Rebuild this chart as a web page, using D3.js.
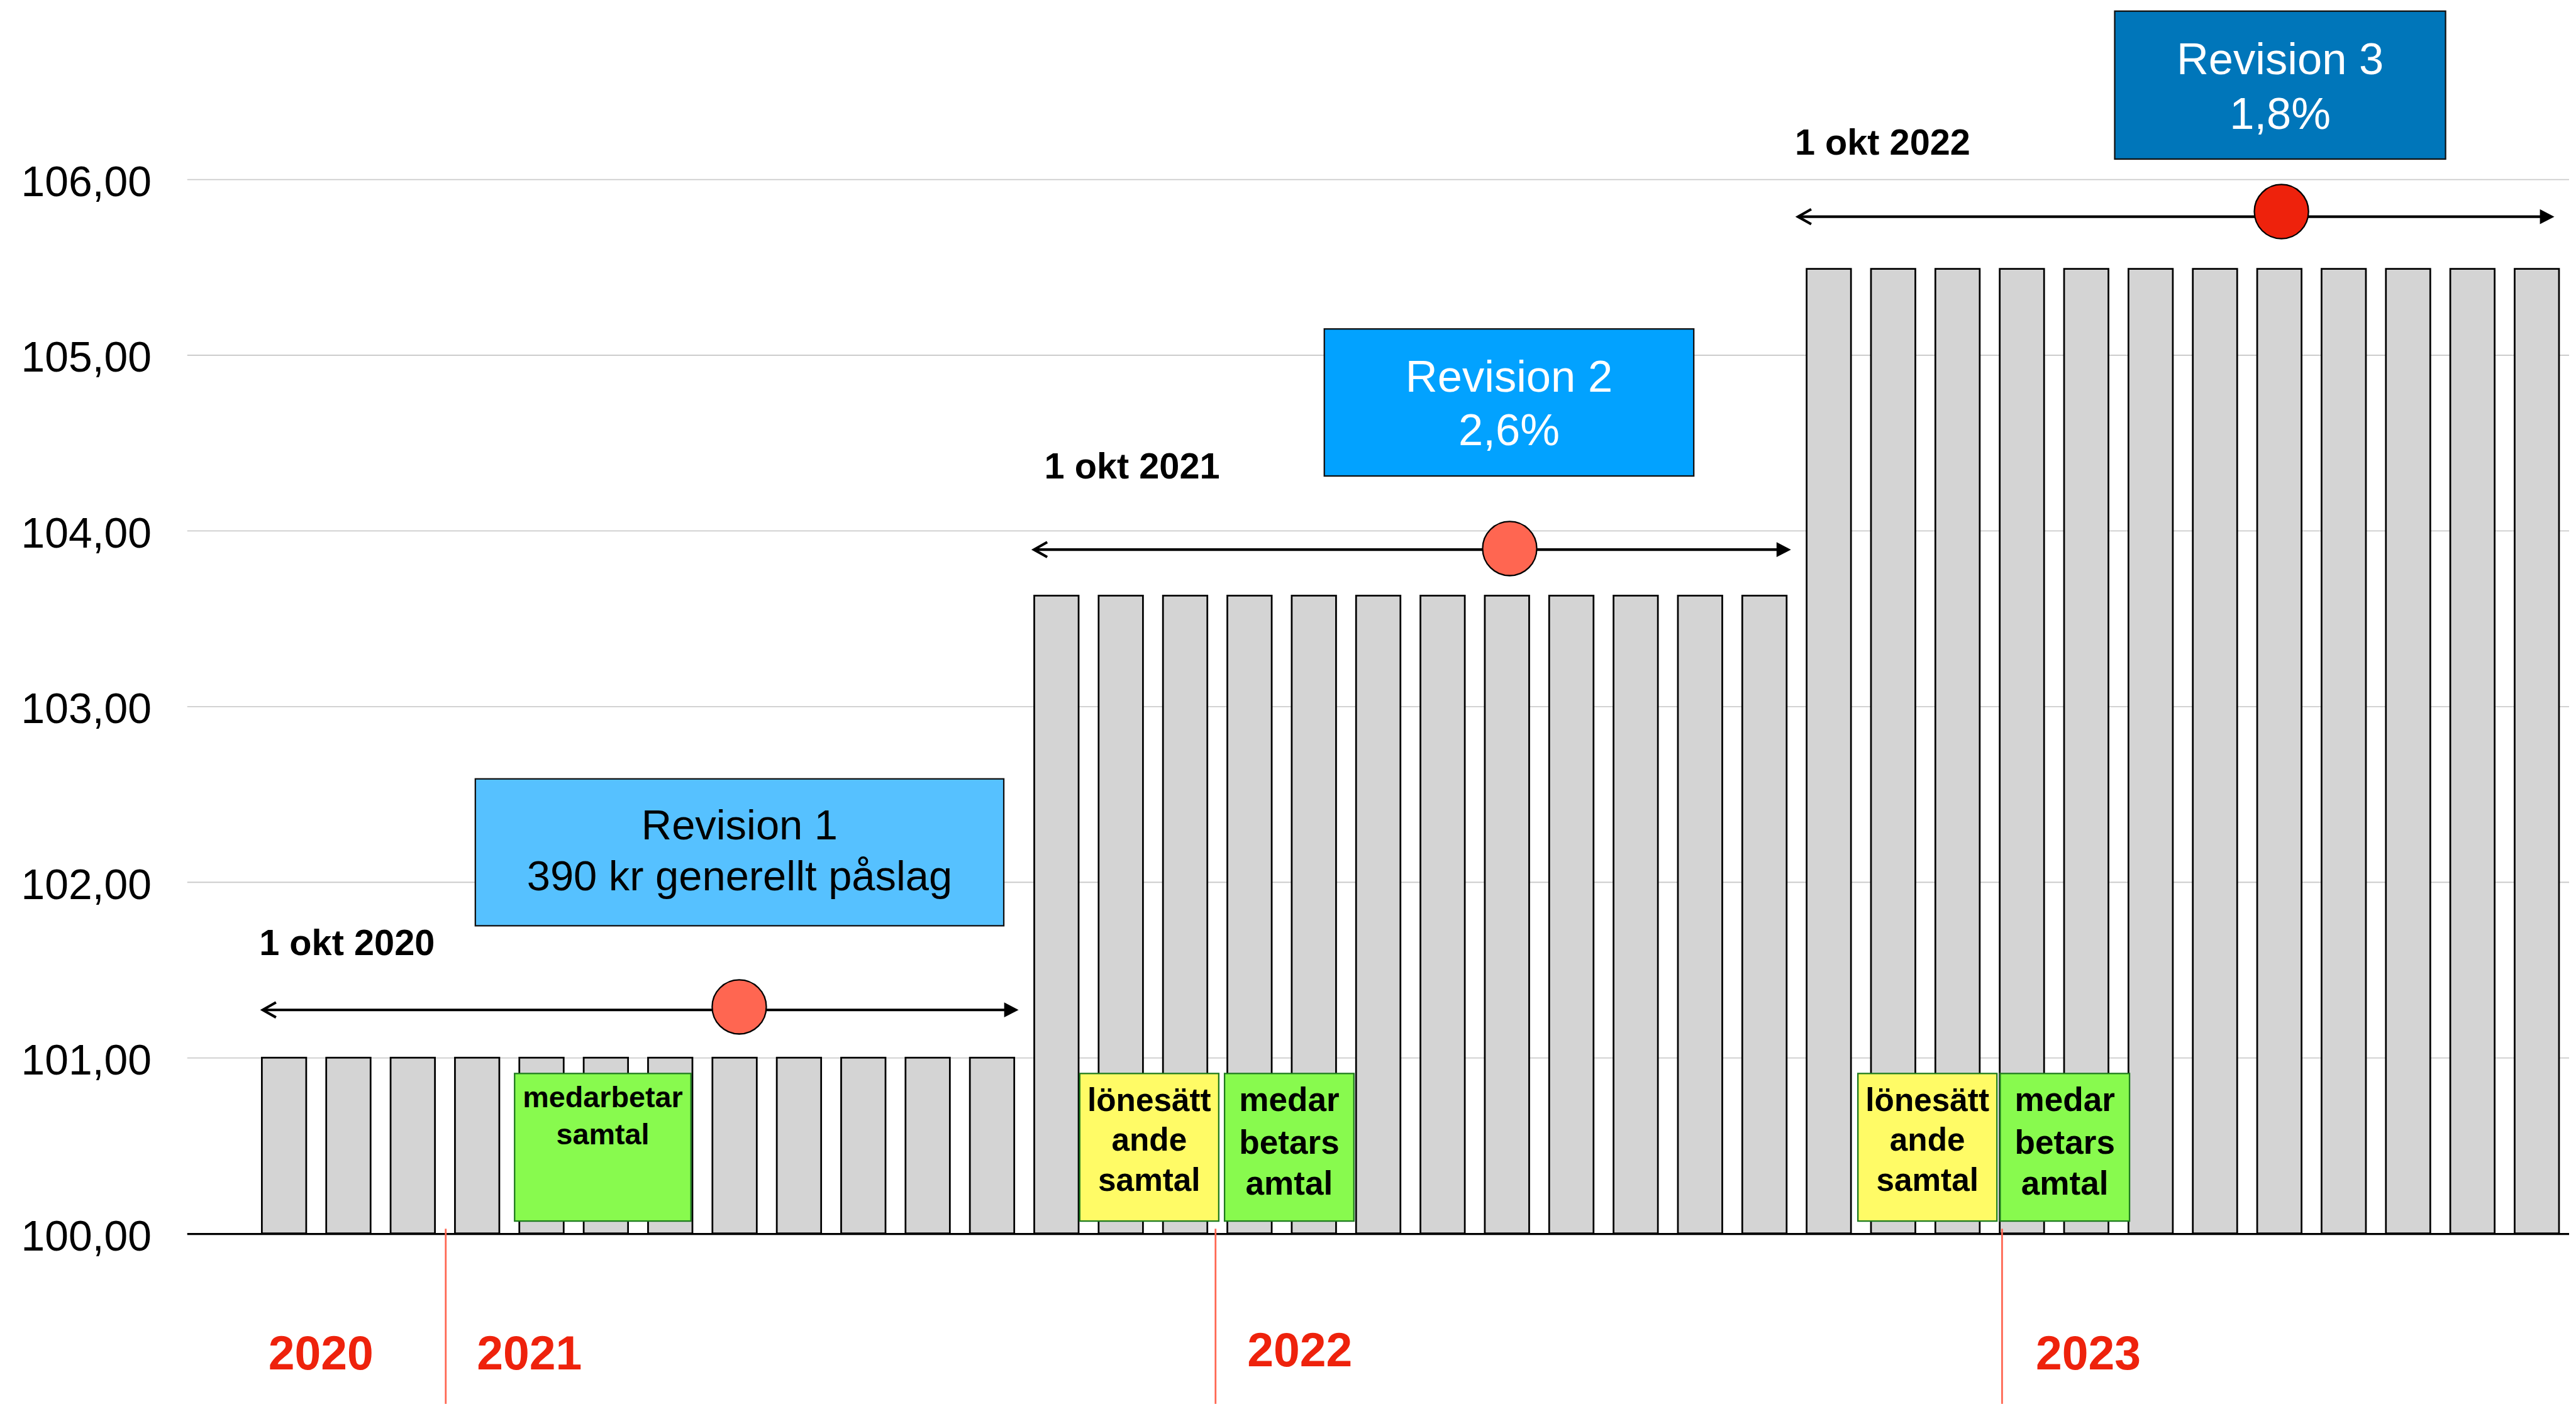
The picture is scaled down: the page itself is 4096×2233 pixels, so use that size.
<!DOCTYPE html>
<html>
<head>
<meta charset="utf-8">
<script src="https://cdn.jsdelivr.net/npm/d3@7"></script>
<style>
  html, body { margin: 0; padding: 0; background: #fff; overflow: hidden; }
  svg { display: block; }
  text { font-family: "Liberation Sans", Arial, Helvetica, sans-serif; }
</style>
</head>
<body>
<div id="chart"></div>
<script>
// ---- data ----
const months = [
  "okt 2020", "nov 2020", "dec 2020", "jan 2021", "feb 2021", "mar 2021",
  "apr 2021", "maj 2021", "jun 2021", "jul 2021", "aug 2021", "sep 2021",
  "okt 2021", "nov 2021", "dec 2021", "jan 2022", "feb 2022", "mar 2022",
  "apr 2022", "maj 2022", "jun 2022", "jul 2022", "aug 2022", "sep 2022",
  "okt 2022", "nov 2022", "dec 2022", "jan 2023", "feb 2023", "mar 2023",
  "apr 2023", "maj 2023", "jun 2023", "jul 2023", "aug 2023", "sep 2023"
];
const values = [
  101.00, 101.00, 101.00, 101.00, 101.00, 101.00,
  101.00, 101.00, 101.00, 101.00, 101.00, 101.00,
  103.63, 103.63, 103.63, 103.63, 103.63, 103.63,
  103.63, 103.63, 103.63, 103.63, 103.63, 103.63,
  105.49, 105.49, 105.49, 105.49, 105.49, 105.49,
  105.49, 105.49, 105.49, 105.49, 105.49, 105.49
];
const yTicks = [100, 101, 102, 103, 104, 105, 106];
const years = ["2020", "2021", "2022", "2023"];
const periodLabels = ["1 okt 2020", "1 okt 2021", "1 okt 2022"];
const revTitles = ["Revision 1", "Revision 2", "Revision 3"];
const revNotes = ["390 kr generellt påslag", "2,6%", "1,8%"];
const talkTexts = [
  ["medarbetar", "samtal"],
  ["lönesätt", "ande", "samtal"],
  ["medar", "betars", "amtal"],
  ["lönesätt", "ande", "samtal"],
  ["medar", "betars", "amtal"]
];

// ---- layout (reference pixel space, scaled by the viewBox) ----
const W = 4471, H = 2437;
const gridLeft = 325, gridRight = 4459;

const svg = d3.select("#chart").append("svg")
  .attr("width", 4096)
  .attr("height", 2233)
  .attr("viewBox", `0 0 ${W} ${H}`);

const x = d3.scaleBand()
  .domain(months)
  .range([453, 4443])
  .paddingInner(0.284)
  .paddingOuter(0);

const y = d3.scaleLinear().domain([100, 106]).range([2141, 311]);

// month-unit position (0 = left edge of first bar)
const xm = d3.scaleLinear()
  .domain([0, months.length])
  .range([x.range()[0], x.range()[0] + months.length * x.step()]);

// gridlines + y labels
const yAxis = svg.append("g")
  .attr("transform", `translate(${gridLeft},0)`)
  .call(
    d3.axisLeft(y)
      .tickValues(yTicks)
      .tickSizeInner(-(gridRight - gridLeft))
      .tickSizeOuter(0)
      .tickPadding(62)
      .tickFormat((d) => d3.format(".2f")(d).replace(".", ","))
  );
yAxis.select(".domain").remove();
yAxis.selectAll(".tick line").attr("stroke", "#cccccc").attr("stroke-width", 2);
yAxis.selectAll(".tick text")
  .attr("font-size", 74)
  .attr("fill", "#000")
  .attr("dy", "0.39em")
  .style("font-family", '"Liberation Sans", Arial, Helvetica, sans-serif');

// bars
svg.append("g")
  .selectAll("rect")
  .data(months)
  .enter()
  .append("rect")
  .attr("x", (d) => x(d) + 1.5)
  .attr("width", x.bandwidth() - 3)
  .attr("y", (d, i) => y(values[i]))
  .attr("height", (d, i) => y(100) - y(values[i]))
  .attr("fill", "#d4d4d4")
  .attr("stroke", "#000")
  .attr("stroke-width", 3);

// baseline
svg.append("line")
  .attr("x1", gridLeft)
  .attr("x2", gridRight)
  .attr("y1", y(100) + 1)
  .attr("y2", y(100) + 1)
  .attr("stroke", "#000")
  .attr("stroke-width", 3.5);

// year dividers and labels
const dividerAt = [2.87, 14.83, 27.05];
svg.append("g")
  .selectAll("line")
  .data(dividerAt)
  .enter()
  .append("line")
  .attr("x1", (d) => xm(d))
  .attr("x2", (d) => xm(d))
  .attr("y1", y(100) - 8)
  .attr("y2", H)
  .attr("stroke", "#ff6651")
  .attr("stroke-width", 3);

const yearLabelAt = [0.93, 4.17, 16.14, 28.39];
const yearLabelDy = [236, 236, 231, 236];
svg.append("g")
  .selectAll("text")
  .data(years)
  .enter()
  .append("text")
  .attr("x", (d, i) => xm(yearLabelAt[i]))
  .attr("y", (d, i) => y(100) + yearLabelDy[i])
  .attr("text-anchor", "middle")
  .attr("font-size", 82)
  .attr("font-weight", "bold")
  .attr("fill", "#ee220c")
  .text((d) => d);

// period arrows with revision dots
const arrowLayout = [
  { from: 0.018, to: 11.77, v: 101.272 },
  { from: 12.0, to: 23.77, v: 103.892 },
  { from: 23.87, to: 35.63, v: 105.787 }
];
const dotLayout = [
  { at: 7.43, v: 101.289, fill: "#ff6651" },
  { at: 19.4, v: 103.898, fill: "#ff6651" },
  { at: 31.39, v: 105.816, fill: "#ee220c" }
];
const labelLayout = [
  { at: -0.027, v: 101.584 },
  { at: 12.17, v: 104.298 },
  { at: 23.83, v: 106.141 }
];

arrowLayout.forEach((a, i) => {
  const x1 = xm(a.from), x2 = xm(a.to), yy = y(a.v);
  const g = svg.append("g");
  g.append("line")
    .attr("x1", x1 + 2).attr("x2", x2 - 12)
    .attr("y1", yy).attr("y2", yy)
    .attr("stroke", "#000").attr("stroke-width", 4.5);
  g.append("path")
    .attr("d", `M${x1 + 24},${yy - 13} L${x1 + 1},${yy} L${x1 + 24},${yy + 13}`)
    .attr("fill", "none").attr("stroke", "#000").attr("stroke-width", 4.5);
  g.append("path")
    .attr("d", `M${x2},${yy} L${x2 - 25},${yy - 13} L${x2 - 25},${yy + 13} Z`)
    .attr("fill", "#000");
  g.append("circle")
    .attr("cx", xm(dotLayout[i].at))
    .attr("cy", y(dotLayout[i].v))
    .attr("r", 47)
    .attr("fill", dotLayout[i].fill)
    .attr("stroke", "#000")
    .attr("stroke-width", 2.5);
  g.append("text")
    .attr("x", xm(labelLayout[i].at))
    .attr("y", y(labelLayout[i].v))
    .attr("font-size", 63)
    .attr("font-weight", "bold")
    .attr("fill", "#000")
    .text(periodLabels[i]);
});

// revision boxes
const revLayout = [
  { x0: 3.33, x1: 11.54, v0: 102.587, v1: 101.751, fill: "#56c1ff", color: "#000", size: 73, lines: [105, 193] },
  { x0: 16.52, x1: 22.26, v0: 105.148, v1: 104.311, fill: "#02a2ff", color: "#fff", size: 77, lines: [109, 202] },
  { x0: 28.8, x1: 33.94, v0: 106.957, v1: 106.115, fill: "#0076ba", color: "#fff", size: 77, lines: [110, 204] }
];
revLayout.forEach((r, i) => {
  const left = xm(r.x0), right = xm(r.x1), top = y(r.v0), bottom = y(r.v1);
  const cx = (left + right) / 2;
  svg.append("rect")
    .attr("x", left).attr("y", top)
    .attr("width", right - left).attr("height", bottom - top)
    .attr("fill", r.fill)
    .attr("stroke", "#111").attr("stroke-width", 2.5);
  [revTitles[i], revNotes[i]].forEach((t, k) => {
    svg.append("text")
      .attr("x", cx)
      .attr("y", top + r.lines[k])
      .attr("text-anchor", "middle")
      .attr("font-size", r.size)
      .attr("fill", r.color)
      .text(t);
  });
});

// small talk boxes
const talkLayout = [
  { x0: 3.94, x1: 6.68, fill: "#88fa4e", size: 51, lines: [59, 123] },
  { x0: 12.72, x1: 14.88, fill: "#fffb66", size: 56, lines: [65, 134, 204] },
  { x0: 14.97, x1: 16.98, fill: "#88fa4e", size: 58, lines: [65, 139, 210] },
  { x0: 24.81, x1: 26.97, fill: "#fffb66", size: 56, lines: [65, 134, 204] },
  { x0: 27.02, x1: 29.03, fill: "#88fa4e", size: 58, lines: [65, 139, 210] }
];
talkLayout.forEach((b, i) => {
  const left = xm(b.x0), right = xm(b.x1);
  const top = y(100.91), bottom = y(100.07);
  svg.append("rect")
    .attr("x", left).attr("y", top)
    .attr("width", right - left).attr("height", bottom - top)
    .attr("fill", b.fill)
    .attr("stroke", "#1e7b1e").attr("stroke-width", 2.5);
  talkTexts[i].forEach((t, k) => {
    svg.append("text")
      .attr("x", (left + right) / 2)
      .attr("y", top + b.lines[k])
      .attr("text-anchor", "middle")
      .attr("font-size", b.size)
      .attr("font-weight", "bold")
      .attr("fill", "#000")
      .text(t);
  });
});
</script>
</body>
</html>
